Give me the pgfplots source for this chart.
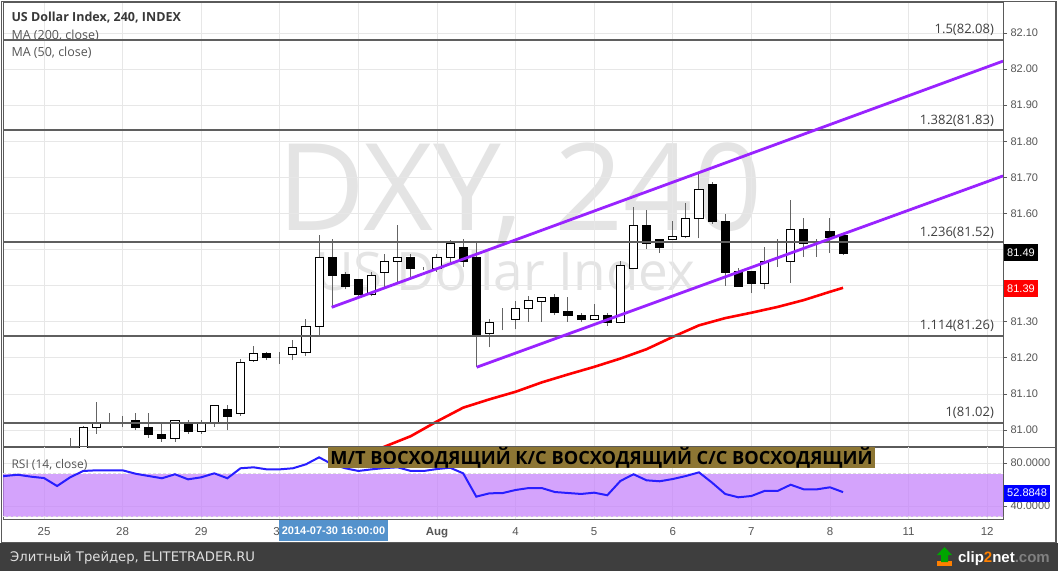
\documentclass[border=0pt]{standalone}
\usepackage{fontspec}
\setmainfont{Open Sans}
\newfontfamily\arial{Liberation Sans}
\newfontfamily\dejavu{DejaVu Sans}
\usepackage{pgfplots}
\usepackage{pgfplotstable}
\pgfplotsset{compat=1.18}

\definecolor{gridc}{RGB}{231,231,231}
\definecolor{axisc}{RGB}{90,90,90}
\definecolor{fibc}{RGB}{95,95,95}
\definecolor{chan}{RGB}{153,35,255}
\definecolor{rsiband}{RGB}{196,128,251}
\definecolor{rsiline}{RGB}{40,30,255}
\definecolor{banner}{RGB}{141,118,52}
\definecolor{footer}{RGB}{62,62,62}
\definecolor{wick}{RGB}{100,100,100}
\definecolor{txt}{RGB}{85,85,85}
\definecolor{wmark}{RGB}{228,228,228}
\definecolor{datebox}{RGB}{84,146,204}

% 4h candles, k = candle number counted from 25 Jul 00:00
\pgfplotstableread{
k o h l c
2 80.900 80.978 80.880 80.940
3 80.920 81.011 80.900 81.008
4 81.008 81.078 80.990 81.019
5 81.027 81.047 81.022 81.027
6 81.027 81.039 81.009 81.027
7 81.027 81.047 81.000 81.007
8 81.007 81.047 80.979 80.988
9 80.988 81.020 80.967 80.976
10 80.977 81.028 80.968 81.027
11 81.019 81.028 80.990 80.996
12 80.996 81.028 80.990 81.019
13 81.020 81.070 81.009 81.069
14 81.058 81.069 80.999 81.037
15 81.047 81.196 81.040 81.188
16 81.194 81.233 81.189 81.211
17 81.211 81.216 81.194 81.200
18 81.202 81.216 81.183 81.202
19 81.208 81.250 81.194 81.230
20 81.216 81.308 81.205 81.286
21 81.286 81.539 81.259 81.479
22 81.479 81.529 81.340 81.428
23 81.430 81.439 81.390 81.397
24 81.418 81.419 81.365 81.375
25 81.375 81.437 81.370 81.429
26 81.437 81.488 81.397 81.468
27 81.468 81.568 81.407 81.479
28 81.479 81.488 81.425 81.447
29 81.448 81.453 81.443 81.448
30 81.448 81.488 81.439 81.479
31 81.479 81.527 81.457 81.517
32 81.506 81.529 81.453 81.466
33 81.479 81.519 81.176 81.266
34 81.268 81.307 81.229 81.299
35 81.300 81.337 81.277 81.300
36 81.307 81.358 81.279 81.336
37 81.336 81.371 81.300 81.358
38 81.357 81.369 81.300 81.367
39 81.368 81.377 81.319 81.325
40 81.327 81.368 81.300 81.317
41 81.318 81.325 81.300 81.307
42 81.307 81.348 81.307 81.318
43 81.318 81.325 81.289 81.299
44 81.299 81.468 81.299 81.457
45 81.448 81.617 81.448 81.567
46 81.567 81.610 81.501 81.517
47 81.529 81.529 81.490 81.506
48 81.529 81.579 81.529 81.537
49 81.537 81.628 81.531 81.587
50 81.587 81.711 81.531 81.667
51 81.679 81.688 81.571 81.577
52 81.579 81.599 81.400 81.436
53 81.438 81.448 81.397 81.397
54 81.438 81.438 81.379 81.406
55 81.407 81.506 81.390 81.468
56 81.469 81.529 81.451 81.469
57 81.468 81.637 81.408 81.556
58 81.556 81.587 81.480 81.517
59 81.517 81.529 81.480 81.517
60 81.549 81.587 81.490 81.534
61 81.538 81.538 81.486 81.490
}\candles

% MA(50, close)
\pgfplotstableread{
k m
24 80.926
26 80.954
28 80.983
30 81.024
32 81.062
34 81.085
36 81.106
38 81.132
40 81.154
42 81.175
44 81.198
46 81.224
48 81.258
50 81.290
52 81.310
54 81.325
56 81.341
58 81.360
60 81.383
61 81.394
}\maf

% RSI(14, close)
\pgfplotstableread{
k r
-4 68.0
-3 67.9
-2 69.1
-1 67.3
0 66.0
1 58.6
2 66.7
3 72.6
4 73.2
5 73.2
6 73.2
7 70.0
8 67.9
9 65.8
10 69.5
11 64.8
12 66.7
13 70.4
14 65.8
15 75.1
16 76.0
17 74.1
18 74.1
19 75.1
20 78.8
21 85.3
22 78.8
23 75.1
24 72.6
25 74.1
26 75.3
27 76.0
28 72.6
29 72.6
30 74.4
31 75.6
32 70.4
33 48.7
34 51.8
35 52.0
36 54.9
37 56.7
38 56.7
39 53.0
40 52.1
41 51.2
42 52.4
43 50.0
44 63.3
45 69.5
46 63.9
47 63.0
48 65.1
49 67.9
50 71.3
51 61.7
52 51.2
53 48.1
54 49.3
55 54.0
56 54.0
57 59.8
58 55.5
59 55.5
60 57.4
61 52.8848
}\rsi

\pgfplotsset{
  panel/.style={scale only axis, width=1000pt, xmin=-3.13, xmax=73.21, anchor=south west},
  pricebox/.style={panel, at={(3pt,124pt)}, height=444pt},
}

\begin{document}
\begin{tikzpicture}
\useasboundingbox (0pt,0pt) rectangle (1058pt,571pt);
\fill[white] (0pt,0pt) rectangle (1058pt,571pt);

% watermark
\node[text=wmark, font=\fontsize{121}{121}\selectfont, anchor=base, inner sep=0pt] at (520pt,340pt) {DXY, 240};
\node[text=wmark, font=\fontsize{53}{53}\selectfont, anchor=base, inner sep=0pt] at (505pt,280pt) {US Dollar Index};

% price panel: grid, wicks, moving average
\begin{axis}[pricebox, ymin=80.953, ymax=82.183,
  axis line style={draw=axisc, line width=1pt},
  xtick={0,6,12,18,24,30,36,42,48,54,60,66,72}, xticklabels={}, xtick style={draw=none},
  ytick={81.0,81.1,81.2,81.3,81.4,81.5,81.6,81.7,81.8,81.9,82.0,82.1},
  yticklabels={81.00,81.10,81.20,81.30,,,81.60,81.70,81.80,81.90,82.00,82.10},
  ytick pos=right, yticklabel pos=right, tick align=outside, major tick length=4pt,
  ytick style={draw=axisc, line width=0.8pt},
  grid=major, grid style={draw=gridc, line width=0.8pt},
  yticklabel style={font=\arial\fontsize{11}{12}\selectfont, text=txt},
]
\addplot[draw=none, mark=none, error bars/.cd, y dir=plus, y explicit, error mark=none,
  error bar style={draw=wick, line width=1pt}]
  table[x=k, y=l, y error expr={\thisrow{h}-\thisrow{l}}] {\candles};
\addplot[red, line width=2.6pt] table[x=k, y=m] {\maf};
\end{axis}

% candle bodies (prices less 80.9, stacked from that base)
\begin{axis}[pricebox, ymin=0.053, ymax=1.283, hide axis, ybar stacked, bar width=0.62]
\addplot[draw=none, fill=none] table[x=k, y expr={min(\thisrow{o},\thisrow{c})-80.9}] {\candles};
\addplot[draw=black, fill=white, line width=1pt] table[x=k, y expr={max(\thisrow{c}-\thisrow{o},0)}] {\candles};
\addplot[draw=black, fill=black, line width=1pt] table[x=k, y expr={max(\thisrow{o}-\thisrow{c},0)}] {\candles};
\end{axis}

% legend
\node[anchor=base west, font=\bfseries\fontsize{12.5}{13}\selectfont, text=black!78] at (8pt,549pt) {US Dollar Index, 240, INDEX};
\node[anchor=base west, font=\fontsize{12.5}{13}\selectfont, text=txt] at (8pt,531pt) {MA (200, close)};
\node[anchor=base west, font=\fontsize{12.5}{13}\selectfont, text=txt] at (8pt,514pt) {MA (50, close)};

% drawings: fibonacci levels and channel
\begin{axis}[pricebox, ymin=80.953, ymax=82.183, hide axis]
\addplot[fibc, line width=2pt] coordinates {(-3.13,82.08)(73.21,82.08)};
\addplot[fibc, line width=2pt] coordinates {(-3.13,81.83)(73.21,81.83)};
\addplot[fibc, line width=2pt] coordinates {(-3.13,81.52)(73.21,81.52)};
\addplot[fibc, line width=2pt] coordinates {(-3.13,81.26)(73.21,81.26)};
\addplot[fibc, line width=2pt] coordinates {(-3.13,81.02)(73.21,81.02)};
\addplot[chan, line width=2.8pt] coordinates {(21.96,81.340)(73.21,82.022)};
\addplot[chan, line width=2.8pt] coordinates {(33.03,81.174)(73.21,81.704)};
\begin{scope}[every node/.style={anchor=south east, font=\fontsize{13}{13}\selectfont, text=black!75, inner sep=1pt, yshift=3pt}]
\node at (axis cs:72.6,82.08) {1.5(82.08)};
\node at (axis cs:72.6,81.83) {1.382(81.83)};
\node at (axis cs:72.6,81.52) {1.236(81.52)};
\node at (axis cs:72.6,81.26) {1.114(81.26)};
\node at (axis cs:72.6,81.02) {1(81.02)};
\end{scope}
\end{axis}

% RSI panel
\begin{axis}[panel, at={(3pt,52pt)}, height=72pt, ymin=27.9, ymax=94.9,
  axis line style={draw=axisc, line width=1pt},
  xtick={0,6,12,18,24,30,36,42,48,54,60,66,72},
  xticklabels={25,28,29,30,,\textbf{Aug},4,5,6,7,8,11,12},
  xtick style={draw=none},
  xticklabel style={font=\arial\fontsize{11.5}{12}\selectfont, text=txt, yshift=-1pt},
  ytick={40,80}, yticklabels={40.0000,80.0000},
  ytick pos=right, yticklabel pos=right, tick align=outside, major tick length=4pt,
  ytick style={draw=axisc, line width=0.8pt},
  grid=major, grid style={draw=gridc, line width=0.8pt},
  yticklabel style={font=\arial\fontsize{11}{12}\selectfont, text=txt},
]
\addplot[fill=rsiband, fill opacity=0.72, draw=none] coordinates {(-3.13,30)(73.21,30)(73.21,70)(-3.13,70)} -- cycle;
\addplot[white!75!gray, densely dashed, line width=0.8pt] coordinates {(-3.13,70)(73.21,70)};
\addplot[white!75!gray, densely dashed, line width=0.8pt] coordinates {(-3.13,30)(73.21,30)};
\addplot[rsiline, line width=2pt] table[x=k, y=r] {\rsi};
\end{axis}
\node[anchor=base west, font=\fontsize{12}{12}\selectfont, text=txt] at (8pt,103pt) {RSI (14, close)};

% trend banner
\node[fill=banner, text=black, font=\bfseries\fontsize{18.2}{18.2}\selectfont, inner xsep=2.5pt, inner ysep=3.5pt, text height=13.5pt, text depth=0pt]
  at (601.5pt,113.5pt) {М/Т ВОСХОДЯЩИЙ К/С ВОСХОДЯЩИЙ С/С ВОСХОДЯЩИЙ};

% price tags
\begin{scope}[every node/.style={anchor=west, text=white, font=\arial\fontsize{11}{11}\selectfont, minimum height=17pt, inner xsep=3pt, inner ysep=0pt}]
\node[fill=black] at (1004pt,318pt) {81.49};
\node[fill=red] at (1004pt,282pt) {81.39};
\node[fill=blue] at (1004pt,78pt) {52.8848};
\end{scope}
\node[fill=datebox, text=white, font=\arial\bfseries\fontsize{11}{11}\selectfont, minimum width=109pt, minimum height=21pt, inner sep=0pt]
  at (333.5pt,40.5pt) {2014-07-30 16:00:00};

% frame
\draw[axisc, line width=1pt] (1003pt,124pt) -- (1056pt,124pt);
\draw[axisc, line width=1.4pt] (1.5pt,28pt) rectangle (1056pt,569.5pt);

% footer
\fill[footer] (0pt,0pt) rectangle (1058pt,28pt);
\node[anchor=base west, text=white!88!black, font=\dejavu\fontsize{13.2}{14}\selectfont, inner sep=0pt] at (10pt,10pt) {Элитный Трейдер, ELITETRADER.RU};
\node[anchor=base east, font=\arial\bfseries\fontsize{15}{15}\selectfont, inner sep=0pt] at (1050pt,9pt)
  {\textcolor{white}{clip}\textcolor{orange}{2}\textcolor{white}{net}\textcolor{gray}{.com}};
\fill[orange] (937pt,5pt) rectangle (952pt,10pt);
\fill[green!65!black] (944.5pt,24pt) -- (952pt,16pt) -- (948pt,16pt) -- (948pt,9pt) -- (941pt,9pt) -- (941pt,16pt) -- (937pt,16pt) -- cycle;
\end{tikzpicture}
\end{document}
